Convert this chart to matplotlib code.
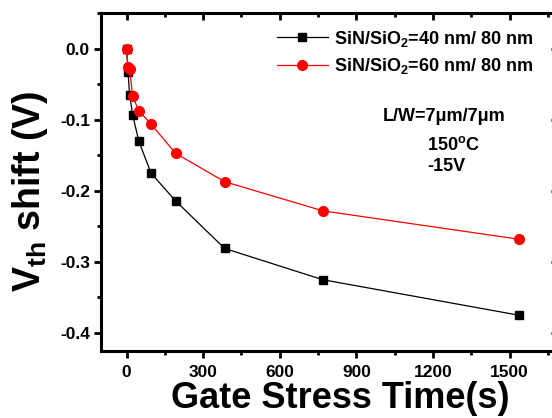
import numpy as np
import matplotlib
matplotlib.use('Agg')
from matplotlib import pyplot as plt
from matplotlib.ticker import MultipleLocator

plt.rcParams['font.family'] = 'Liberation Sans'
plt.rcParams['font.weight'] = 'bold'
plt.rcParams['mathtext.default'] = 'regular'

# stress times (s) and threshold voltage shift (V)
t_40 = [0, 6, 12, 24, 48, 96, 192, 384, 768, 1536]
vth_40 = [0.0, -0.033, -0.065, -0.093, -0.130, -0.175, -0.214, -0.281, -0.325, -0.375]
t_60 = [0, 6, 12, 24, 48, 96, 192, 384, 768, 1536]
vth_60 = [0.0, -0.026, -0.028, -0.067, -0.087, -0.106, -0.147, -0.187, -0.228, -0.268]

label_40 = 'SiN/SiO$_2$=40 nm/ 80 nm'
label_60 = 'SiN/SiO$_2$=60 nm/ 80 nm'

fig = plt.figure(figsize=(5.52, 4.18), dpi=100)
ax = fig.add_axes([0.183, 0.161, 0.828, 0.807])

ax.plot(t_40, vth_40, '-s', color='black', lw=0.9, ms=6, label=label_40)
ax.plot(t_60, vth_60, '-o', color='red', mec='red', mfc='red', lw=0.9, ms=7, label=label_60)

ax.set_xlim(-100, 1690)
ax.set_ylim(-0.425, 0.05)
ax.xaxis.set_major_locator(MultipleLocator(300))
ax.xaxis.set_minor_locator(MultipleLocator(150))
ax.yaxis.set_major_locator(MultipleLocator(0.1))
ax.yaxis.set_minor_locator(MultipleLocator(0.05))
ax.yaxis.set_major_formatter(plt.FuncFormatter(lambda v, p: '%.1f' % v))

for sp in ax.spines.values():
    sp.set_linewidth(2.2)
ax.tick_params(which='both', direction='out', top=False, right=False, width=2, labelsize=12.5)
ax.tick_params(which='major', length=5, pad=3)
ax.tick_params(axis='x', which='major', pad=5)
ax.tick_params(which='minor', length=3)

# mirrored ticks on top and right point inward
sec_x = ax.secondary_xaxis('top')
sec_x.xaxis.set_major_locator(MultipleLocator(300))
sec_x.xaxis.set_minor_locator(MultipleLocator(150))
sec_x.tick_params(which='both', direction='in', width=2, labeltop=False)
sec_x.tick_params(which='major', length=5)
sec_x.tick_params(which='minor', length=3)
sec_y = ax.secondary_yaxis('right')
sec_y.yaxis.set_major_locator(MultipleLocator(0.1))
sec_y.yaxis.set_minor_locator(MultipleLocator(0.05))
sec_y.tick_params(which='both', direction='in', width=2, labelright=False)
sec_y.tick_params(which='major', length=5)
sec_y.tick_params(which='minor', length=3)

ax.set_xlabel('Gate Stress Time(s)', fontsize=26, fontweight='bold')
ax.xaxis.set_label_coords(0.523, -0.09)
ax.set_ylabel('V$_{th}$ shift (V)', fontsize=27, fontweight='bold')
ax.yaxis.set_label_coords(-0.112, 0.471)

ax.legend(loc='upper left', bbox_to_anchor=(0.385, 0.955), frameon=False,
          fontsize=13, handlelength=2.8, handletextpad=0.35, labelspacing=0.42,
          borderaxespad=0, borderpad=0)

ax.text(0.617, 0.693, 'L/W=7μm/7μm', transform=ax.transAxes, fontsize=13,
        fontweight='bold', ha='left', va='center')
ax.text(0.713, 0.610, '150$^{o}$C', transform=ax.transAxes, fontsize=13,
        fontweight='bold', ha='left', va='center')
ax.text(0.713, 0.545, '-15V', transform=ax.transAxes, fontsize=13,
        fontweight='bold', ha='left', va='center')

fig.savefig('out.png', dpi=100)
